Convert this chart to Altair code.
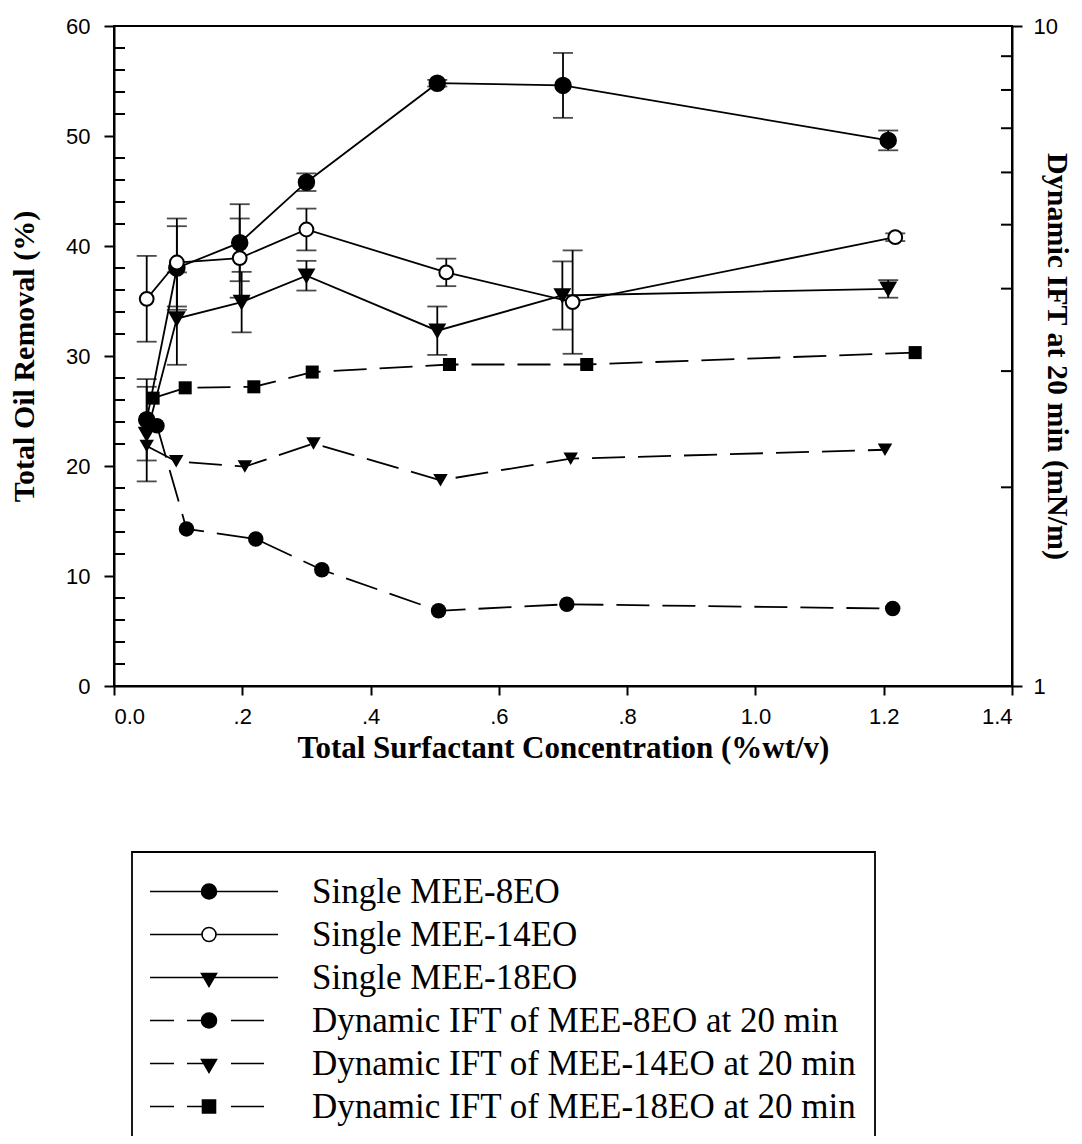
import altair as alt
import pandas as pd

# ---------------- data ----------------
# Total oil removal (%) of single surfactants
conc_8eo = [0.051, 0.098, 0.196, 0.300, 0.504, 0.700, 1.207]
oil_8eo = [24.2, 38.0, 40.3, 45.8, 54.8, 54.6, 49.6]
err_8eo = [3.7, 3.8, 3.5, 0.8, 0.3, 2.95, 0.9]

conc_14eo = [0.051, 0.098, 0.196, 0.300, 0.518, 0.715, 1.218]
oil_14eo = [35.2, 38.5, 38.9, 41.5, 37.6, 34.9, 40.8]
err_14eo = [3.9, 4.0, 3.6, 1.9, 1.25, 4.7, 0.35]

conc_18eo = [0.051, 0.098, 0.199, 0.300, 0.504, 0.699, 1.207]
oil_18eo = [22.9, 33.4, 34.9, 37.3, 32.3, 35.5, 36.1]
err_18eo = [4.3, 4.2, 2.75, 1.35, 2.2, 3.1, 0.8]

# Dynamic IFT at 20 min (mN/m), right log axis
ift_conc_8eo = [0.067, 0.113, 0.221, 0.324, 0.506, 0.706, 1.214]
ift_8eo = [2.48, 1.73, 1.67, 1.50, 1.30, 1.33, 1.31]
ift_conc_14eo = [0.051, 0.097, 0.204, 0.311, 0.509, 0.712, 1.202]
ift_14eo = [2.31, 2.19, 2.15, 2.33, 2.05, 2.21, 2.28]
ift_conc_18eo = [0.061, 0.111, 0.218, 0.309, 0.523, 0.737, 1.249]
ift_18eo = [2.73, 2.83, 2.84, 2.99, 3.07, 3.07, 3.20]

series_names = [
    "Single MEE-8EO",
    "Single MEE-14EO",
    "Single MEE-18EO",
    "Dynamic IFT of MEE-8EO at 20 min",
    "Dynamic IFT of MEE-14EO at 20 min",
    "Dynamic IFT of MEE-18EO at 20 min",
]

x_ticks = [0, 0.2, 0.4, 0.6, 0.8, 1.0, 1.2, 1.4]
left_ticks = [0, 10, 20, 30, 40, 50, 60]
left_minor = [v for v in range(2, 60, 2) if v % 10]
right_ticks = [1, 10]
right_minor = [2, 3, 4, 5, 6, 7, 8, 9]

# ---------------- layout ----------------
W, H = 898, 660
SERIF = "Liberation Serif"
SANS = "Liberation Sans"

xscale = alt.Scale(domain=[0, 1.4], nice=False, zero=False)
lscale = alt.Scale(domain=[0, 60], nice=False, zero=False)
rscale = alt.Scale(type="log", domain=[1, 10], nice=False)

xaxis = alt.Axis(
    values=x_ticks,
    labelExpr="datum.value == 0 ? '0.0' : (datum.value < 1 ? replace(format(datum.value, '.1f'), '0.', '.') : format(datum.value, '.1f'))",
    tickSize=9, tickWidth=2, domainWidth=2, grid=False,
    labelFont=SANS, labelFontSize=22, labelPadding=11, labelColor="black",
    title="Total Surfactant Concentration (%wt/v)",
    titleFont=SERIF, titleFontSize=31, titleFontWeight="bold", titleColor="black",
    titleY=62, titleBaseline="middle",
)
laxis = alt.Axis(
    values=left_ticks, format="d",
    tickSize=10, tickWidth=2, domainWidth=2, grid=False,
    labelFont=SANS, labelFontSize=22, labelPadding=14, labelColor="black",
    title="Total Oil Removal (%)",
    titleFont=SERIF, titleFontSize=30, titleFontWeight="bold", titleColor="black",
    titleX=-90, titleY=H / 2, titleAngle=270, titleBaseline="middle", titleAlign="center",
)
raxis = alt.Axis(
    orient="right", values=right_ticks, labelExpr="format(datum.value, 'd')",
    tickSize=10, tickWidth=2, domainWidth=2, grid=False,
    labelFont=SANS, labelFontSize=22, labelPadding=11, labelColor="black",
    title="Dynamic IFT at 20 min (mN/m)",
    titleFont=SERIF, titleFontSize=30, titleFontWeight="bold", titleColor="black",
    titleX=44, titleY=H / 2, titleAngle=90, titleBaseline="middle", titleAlign="center",
)

X = alt.X("conc:Q", scale=xscale, axis=xaxis)

# ---------------- legend symbols (custom paths) ----------------
HALF = 66.0  # px per path unit


def _n(v):
    return f"{v / HALF:.4f}"


def seg(a, b):
    return f"M{_n(a)},0L{_n(b)},0"


def circle(r):
    return (f"M{_n(r)},0A{_n(r)},{_n(r)} 0 1,1 {_n(-r)},0"
            f"A{_n(r)},{_n(r)} 0 1,1 {_n(r)},0Z")


def tri(w, top, bot):
    return f"M{_n(-w)},{_n(top)}L{_n(w)},{_n(top)}L0,{_n(bot)}Z"


def square(s):
    return f"M{_n(-s)},{_n(-s)}L{_n(s)},{_n(-s)}L{_n(s)},{_n(s)}L{_n(-s)},{_n(s)}Z"


dash = seg(-68, -35) + seg(-22, 0) + seg(22, 55)
legend_paths = [
    seg(-68, 69) + circle(7.5),
    seg(-68, -7) + seg(7, 69) + circle(7),
    seg(-68, 69) + tri(7.5, -4, 9),
    dash + circle(7.5),
    dash + tri(7.5, -4, 9),
    dash + square(6.5),
]
legend_fills = ["black", "white", "black", "black", "black", "black"]
legend_strokes = ["black"] * 6
SYM = (2 * HALF) ** 2

legend = alt.Legend(
    title=None, orient="none", legendX=18, legendY=826, direction="vertical",
    symbolSize=SYM, symbolStrokeWidth=1.6,
    symbolOffset=-8, labelOffset=36, padding=18, clipHeight=43, rowPadding=0,
    labelFont=SERIF, labelFontSize=35, labelColor="black", labelLimit=1000,
    labelBaseline="middle", strokeColor="black",
)

legend_df = pd.DataFrame({"series": series_names})
legend_layer = alt.Chart(legend_df).transform_filter("false").mark_point(
    size=SYM, strokeWidth=1.6, opacity=1
).encode(
    shape=alt.Shape("series:N", scale=alt.Scale(domain=series_names, range=legend_paths), legend=legend),
    fill=alt.Fill("series:N", scale=alt.Scale(domain=series_names, range=legend_fills), legend=legend),
    stroke=alt.Stroke("series:N", scale=alt.Scale(domain=series_names, range=legend_strokes), legend=legend),
)

# ---------------- left (oil removal) layers ----------------
single = [
    (conc_8eo, oil_8eo, err_8eo, "circle", "black"),
    (conc_18eo, oil_18eo, err_18eo, "triangle-down", "black"),
    (conc_14eo, oil_14eo, err_14eo, "circle", "white"),
]

bar_layers, line_layers, point_layers = [], [], []
for conc, oil, err, shape, fill in single:
    df = pd.DataFrame({"conc": conc, "oil": oil, "err": err})
    base = alt.Chart(df).transform_calculate(
        lo="datum.oil - datum.err", hi="datum.oil + datum.err"
    )
    bar_layers.append(
        base.mark_rule(color="black", strokeWidth=1.8).encode(
            x=X, y=alt.Y("lo:Q", scale=lscale, axis=laxis), y2="hi:Q"
        )
    )
    bar_layers.append(
        base.transform_fold(["lo", "hi"], as_=["end", "val"]).mark_tick(
            color="black", orient="horizontal", size=20, thickness=1.8
        ).encode(x=X, y=alt.Y("val:Q", scale=lscale, axis=laxis))
    )
    line_layers.append(
        alt.Chart(df).mark_line(color="black", strokeWidth=1.8).encode(
            x=X, y=alt.Y("oil:Q", scale=lscale, axis=laxis)
        )
    )
    size = 240 if fill == "black" else 190
    if shape == "triangle-down":
        size = 210
    point_layers.append(
        alt.Chart(df).mark_point(
            shape=shape, filled=False, fill=fill, stroke="black",
            strokeWidth=2, size=size, opacity=1
        ).encode(x=X, y=alt.Y("oil:Q", scale=lscale, axis=laxis))
    )

lminor = alt.Chart(pd.DataFrame({"v": left_minor})).mark_rule(
    color="black", strokeWidth=2
).encode(x=alt.value(0), x2=alt.value(11), y=alt.Y("v:Q", scale=lscale, axis=laxis))

left = alt.layer(lminor, *bar_layers, *line_layers, *point_layers, legend_layer)

# ---------------- right (IFT, log) layers ----------------
ift = [
    (ift_conc_8eo, ift_8eo, "circle", 240),
    (ift_conc_14eo, ift_14eo, "triangle-down", 210),
    (ift_conc_18eo, ift_18eo, "square", 170),
]
r_lines, r_points = [], []
for conc, val, shape, size in ift:
    df = pd.DataFrame({"conc": conc, "ift": val})
    r_lines.append(
        alt.Chart(df).mark_line(color="black", strokeWidth=1.8, strokeDash=[33, 13]).encode(
            x=X, y=alt.Y("ift:Q", scale=rscale, axis=raxis)
        )
    )
    r_points.append(
        alt.Chart(df).mark_point(
            shape=shape, filled=True, color="black", size=size, opacity=1
        ).encode(x=X, y=alt.Y("ift:Q", scale=rscale, axis=raxis))
    )

rminor = alt.Chart(pd.DataFrame({"v": right_minor})).mark_rule(
    color="black", strokeWidth=2
).encode(x=alt.value(W - 11), x2=alt.value(W), y=alt.Y("v:Q", scale=rscale, axis=raxis))

right = alt.layer(rminor, *r_lines, *r_points)

chart = alt.layer(left, right).resolve_scale(y="independent").properties(
    width=W, height=H,
    autosize=alt.AutoSizeParams(type="none"),
    padding={"left": 106, "top": 18, "right": 62, "bottom": 450},
    background="white",
).configure_view(stroke="black", strokeWidth=2).configure_axis(
    domainColor="black", tickColor="black"
)

try:
    trial = chart.configure_legend(strokeWidth=1.8)
    trial.to_dict()
    chart = trial
except Exception:
    pass

chart.save("out.html", embed_options={"renderer": "svg", "actions": False})
